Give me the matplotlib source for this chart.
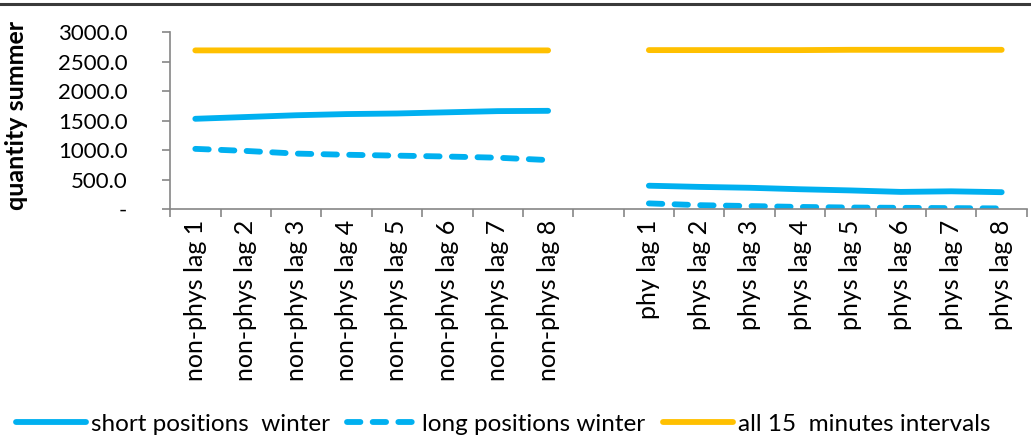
import numpy as np
import matplotlib
matplotlib.use("Agg")
import matplotlib.pyplot as plt
from matplotlib.lines import Line2D

plt.rcParams['font.family'] = ['Lato', 'DejaVu Sans']

categories = ["non-phys lag 1", "non-phys lag 2", "non-phys lag 3", "non-phys lag 4",
              "non-phys lag 5", "non-phys lag 6", "non-phys lag 7", "non-phys lag 8",
              "",
              "phy lag 1", "phys lag 2", "phys lag 3", "phys lag 4",
              "phys lag 5", "phys lag 6", "phys lag 7", "phys lag 8"]

nan = np.nan
short_winter = [1530, 1560, 1590, 1610, 1620, 1640, 1660, 1665,
                nan,
                395, 375, 360, 335, 315, 290, 300, 285]
long_winter = [1020, 985, 940, 920, 905, 890, 870, 830,
               nan,
               95, 65, 50, 35, 25, 20, 15, 10]
all_intervals = [2690, 2690, 2690, 2690, 2690, 2690, 2690, 2690,
                 nan,
                 2695, 2695, 2695, 2695, 2700, 2700, 2700, 2700]

yticks = [0, 500, 1000, 1500, 2000, 2500, 3000]
ytick_labels = ["-", "500.0", "1000.0", "1500.0", "2000.0", "2500.0", "3000.0"]

blue = "#00B0F0"
orange = "#FFC000"
grey = "#868686"

fig = plt.figure(figsize=(10.31, 4.4), dpi=100)
ax = fig.add_axes([0.165, 0.525, 0.831, 0.402])

x = np.arange(len(categories))
lw = 4.2
ax.plot(x, short_winter, color=blue, lw=lw, solid_capstyle='round',
        label="short positions  winter")
ax.plot(x, long_winter, color=blue, lw=lw, dashes=(2.3, 2.1),
        dash_capstyle='round', label="long positions winter")
ax.plot(x, all_intervals, color=orange, lw=lw, solid_capstyle='round',
        label="all 15  minutes intervals")

ax.set_xlim(-0.5, len(categories) - 0.5)
ax.set_ylim(0, 3000)
ax.set_yticks(yticks)
ax.set_yticklabels(ytick_labels, fontsize=16)

ax.set_xticks(x)
ax.set_xticklabels(categories, rotation=90, fontsize=18)
ax.tick_params(axis='x', which='major', length=0, pad=8)
ax.set_xticks(np.arange(-0.5, len(categories)), minor=True)
ax.tick_params(axis='x', which='minor', length=5.5, width=1.2, color=grey)
ax.tick_params(axis='y', length=5.8, width=1.2, color=grey, pad=25)

for side in ("top", "right"):
    ax.spines[side].set_visible(False)
for side in ("left", "bottom"):
    ax.spines[side].set_color(grey)
    ax.spines[side].set_linewidth(1.2)

ax.set_ylabel("quantity summer", fontsize=18, fontweight='bold')
ax.yaxis.set_label_coords(-0.166, 0.528)

leg = fig.legend(loc='center', bbox_to_anchor=(0.488, 0.036), ncol=3, frameon=False,
                 fontsize=17.5, handlelength=2.9, handletextpad=0.2,
                 columnspacing=0.7, borderpad=0.1)

fig.add_artist(Line2D([0, 1], [0.99, 0.99], transform=fig.transFigure,
                      color="#3a3a3a", lw=2.2))

fig.savefig("out.png", dpi=100)
